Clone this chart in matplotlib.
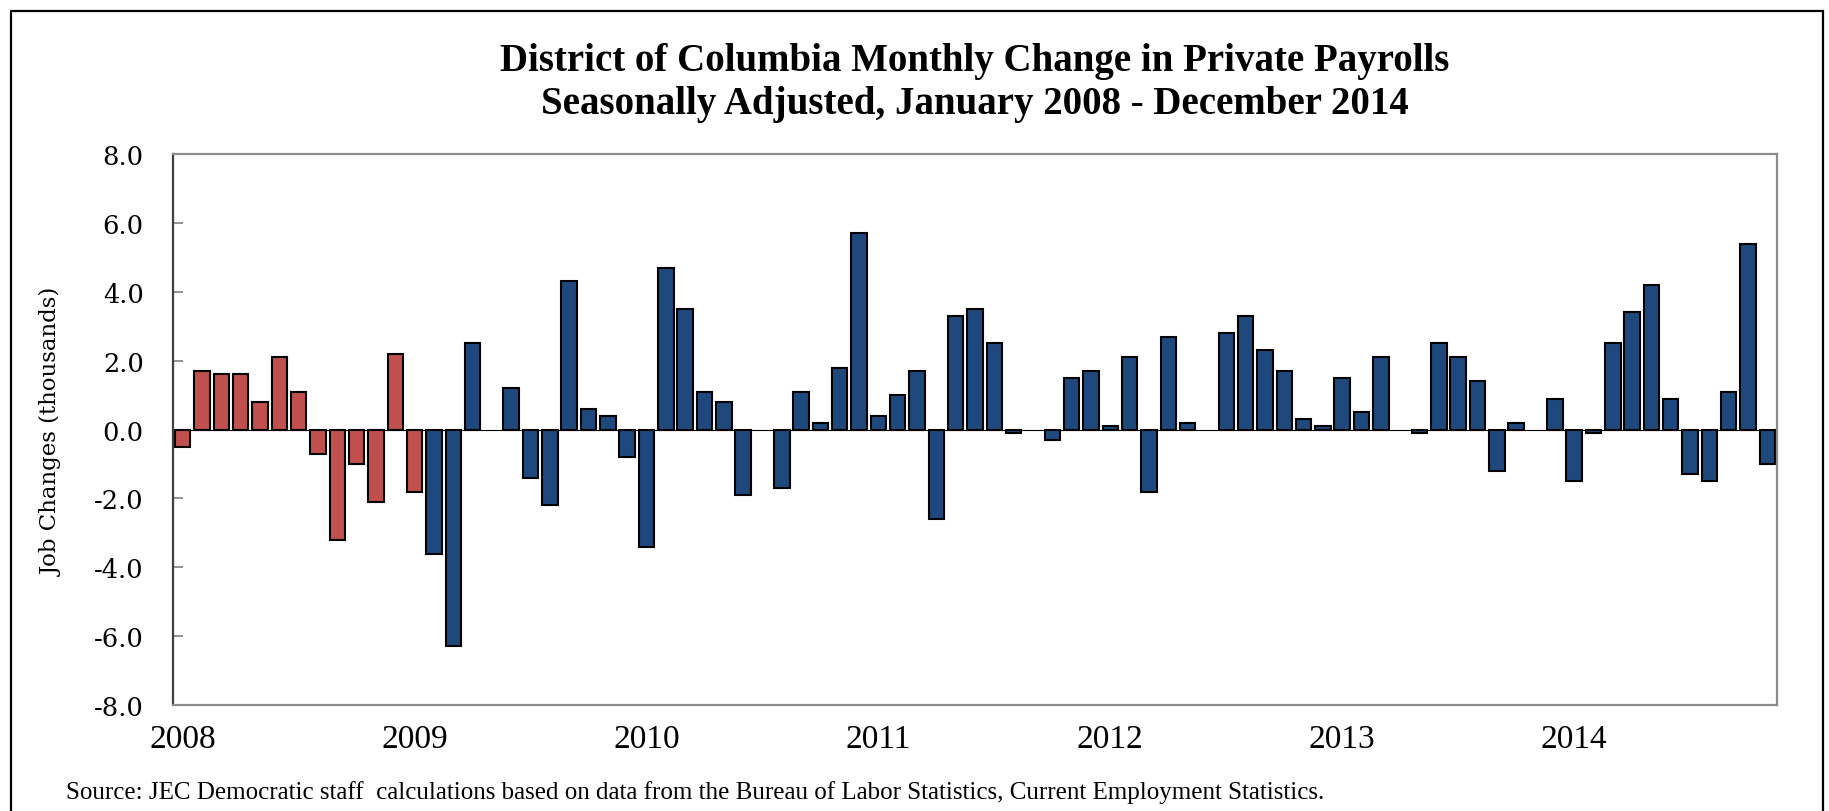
import matplotlib.pyplot as plt
from matplotlib.patches import Rectangle

# monthly change in DC private payrolls, thousands, Jan 2008 onward
changes_2008 = [-0.5, 1.7, 1.6, 1.6, 0.8, 2.1, 1.1, -0.7, -3.2, -1.0, -2.1, 2.2]
changes_2009 = [-1.8, -3.6, -6.3, 2.5, 0.0, 1.2, -1.4, -2.2, 4.3, 0.6, 0.4, -0.8]
changes_2010 = [-3.4, 4.7, 3.5, 1.1, 0.8, -1.9, 0.0, -1.7, 1.1, 0.2, 1.8, 5.7]
changes_2011 = [0.4, 1.0, 1.7, -2.6, 3.3, 3.5, 2.5, -0.1, 0.0, -0.3, 1.5, 1.7]
changes_2012 = [0.1, 2.1, -1.8, 2.7, 0.2, 0.0, 2.8, 3.3, 2.3, 1.7, 0.3, 0.1]
changes_2013 = [1.5, 0.5, 2.1, 0.0, -0.1, 2.5, 2.1, 1.4, -1.2, 0.2, 0.0, 0.9]
changes_2014 = [-1.5, -0.1, 2.5, 3.4, 4.2, 0.9, -1.3, -1.5, 1.1, 5.4, -1.0]

years = ["2008", "2009", "2010", "2011", "2012", "2013", "2014"]
n_red = 13  # Jan 2008 - Jan 2009 drawn in red

values = (changes_2008 + changes_2009 + changes_2010 + changes_2011
          + changes_2012 + changes_2013 + changes_2014)
x = list(range(len(values)))
colors = ["#C0504D" if i < n_red else "#1F497D" for i in x]
widths = [0 if v == 0 else 1.5 for v in values]

fig = plt.figure(figsize=(18.29, 8.12), dpi=100)
ax = fig.add_axes([0.0946, 0.1305, 0.9716 - 0.0946, 0.8091 - 0.1305])

ax.axhline(0, color="black", lw=0.8, zorder=1)
ax.bar(x, values, width=0.8, color=colors, edgecolor="black", linewidth=widths, zorder=2)

ax.set_xlim(-0.5, len(values) - 0.5)
ax.set_ylim(-8, 8)
ax.set_yticks(range(-8, 9, 2))
ax.set_yticklabels(["%.1f" % t for t in range(-8, 9, 2)], family="DejaVu Serif", fontsize=18.5)
ax.set_xticks(range(0, len(values), 12))
ax.set_xticklabels(years, family="Liberation Serif", fontsize=24)
ax.tick_params(axis="x", length=0, pad=13)
ax.tick_params(axis="y", direction="in", length=7, width=1.2, color="#7f7f7f", pad=21)

for s in ["top", "right", "bottom"]:
    ax.spines[s].set_color("#8c8c8c")
    ax.spines[s].set_linewidth(1.6)
ax.spines["left"].set_color("#404040")
ax.spines["left"].set_linewidth(1.6)

fig.text(0.5331, 0.8975, "District of Columbia Monthly Change in Private Payrolls\n"
         "Seasonally Adjusted, January 2008 - December 2014",
         ha="center", va="center", family="Liberation Serif", fontweight="bold",
         fontsize=28, linespacing=1.2)
fig.text(0.0284, 0.468, "Job Changes (thousands)", rotation=90, ha="center", va="center",
         family="DejaVu Serif", fontsize=16.5)
fig.text(0.036, 0.0246, "Source: JEC Democratic staff  calculations based on data from the Bureau "
         "of Labor Statistics, Current Employment Statistics.",
         ha="left", va="center", family="Liberation Serif", fontsize=18)

# outer frame, runs off the bottom edge
fig.patches.append(Rectangle((0.006, -0.05), 0.9907, 1.035, transform=fig.transFigure,
                             fill=False, edgecolor="black", linewidth=1.6))

fig.savefig("out.png", dpi=100)
